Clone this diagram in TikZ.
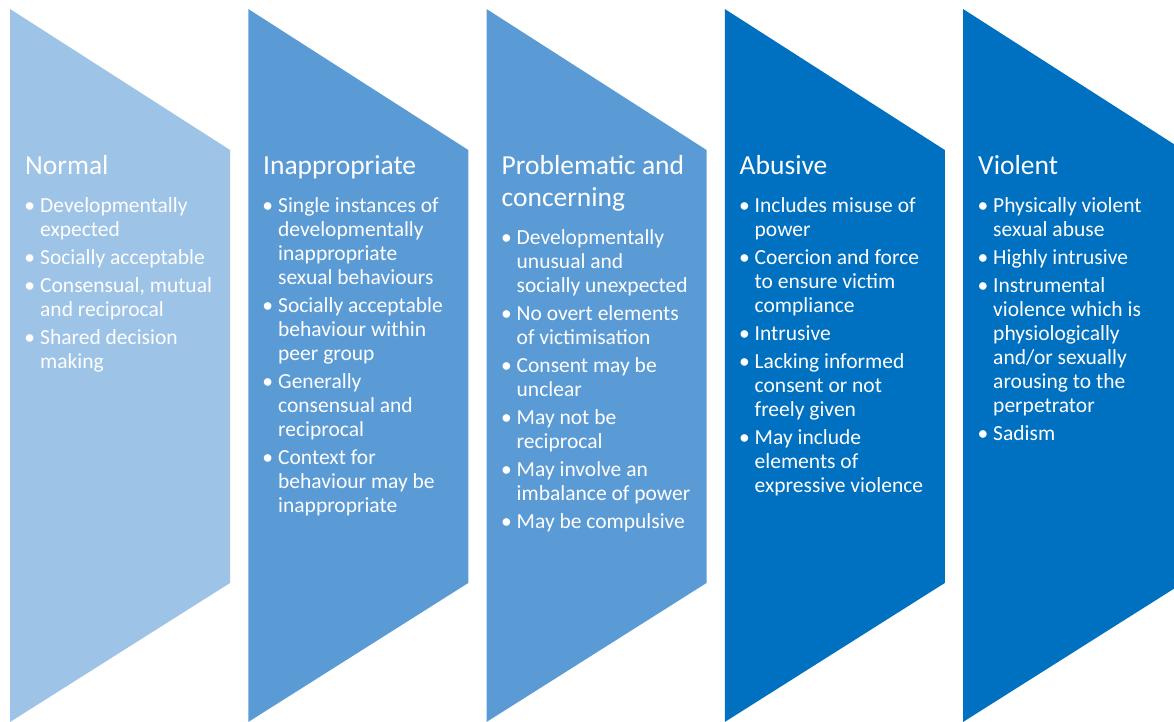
\documentclass[tikz,border=0pt]{standalone}
\usepackage{fontspec}
\setmainfont{Carlito}
\usepackage{enumitem}
\usetikzlibrary{positioning}
\definecolor{stagelight}{HTML}{9DC3E6}
\definecolor{stagemid}{HTML}{5B9BD5}
\definecolor{stagedark}{HTML}{0070C0}
\setlist[itemize]{label=\textbullet, leftmargin=15pt, labelsep=5pt, itemsep=4pt, parsep=0pt, topsep=0pt, partopsep=0pt}
\newcommand{\stageitems}[1]{\begin{minipage}[t]{205pt}\begin{itemize}#1\end{itemize}\end{minipage}}
\tikzset{
    stagetitle/.style = {anchor=base west, inner sep=0pt, text=white, align=left, font=\fontsize{27.5}{32}\selectfont},
    stagelist/.style = {anchor=base west, inner sep=0pt, text=white, font=\fontsize{21.5}{24}\selectfont}
}
\begin{document}
\begin{tikzpicture}[x=1pt,y=1pt]
\path[use as bounding box] (0,0) rectangle (1174,722);
\clip (0,0) rectangle (1174,722);
% chevrons
\foreach \x/\c in {10/stagelight, 248.25/stagemid, 486.5/stagemid, 724.75/stagedark, 963/stagedark}
    \fill[\c] (\x,713) -- ++(220,-141) -- ++(0,-433) -- ++(-220,-139) -- cycle;
%
\node[stagetitle] at (25,547) (tnormal) {Normal};
\node[stagetitle] at (263,547) (tinapp) {Inappropriate};
\node[stagetitle] at (501.5,515) (tprob) {Problematic and\\concerning}; % base = last line
\node[stagetitle] at (739.5,547) (tabus) {Abusive};
\node[stagetitle] at (978,547) (tviol) {Violent};
%
\node[stagelist] at (25,509) (lnormal) {\stageitems{
    \item Developmentally\newline expected
    \item Socially acceptable
    \item Consensual, mutual\newline and reciprocal
    \item Shared decision\newline making}};
\node[stagelist] at (263,509) (linapp) {\stageitems{
    \item Single instances of\newline developmentally\newline inappropriate\newline sexual behaviours
    \item Socially acceptable\newline behaviour within\newline peer group
    \item Generally\newline consensual and\newline reciprocal
    \item Context for\newline behaviour may be\newline inappropriate}};
\node[stagelist] at (501.5,477) (lprob) {\stageitems{
    \item Developmentally\newline unusual and\newline socially unexpected
    \item No overt elements\newline of victimisation
    \item Consent may be\newline unclear
    \item May not be\newline reciprocal
    \item May involve an\newline imbalance of power
    \item May be compulsive}};
\node[stagelist] at (739.5,509) (labus) {\stageitems{
    \item Includes misuse of\newline power
    \item Coercion and force\newline to ensure victim\newline compliance
    \item Intrusive
    \item Lacking informed\newline consent or not\newline freely given
    \item May include\newline elements of\newline expressive violence}};
\node[stagelist] at (978,509) (lviol) {\stageitems{
    \item Physically violent\newline sexual abuse
    \item Highly intrusive
    \item Instrumental\newline violence which is\newline physiologically\newline and/or sexually\newline arousing to the\newline perpetrator
    \item Sadism}};
\end{tikzpicture}
\end{document}
